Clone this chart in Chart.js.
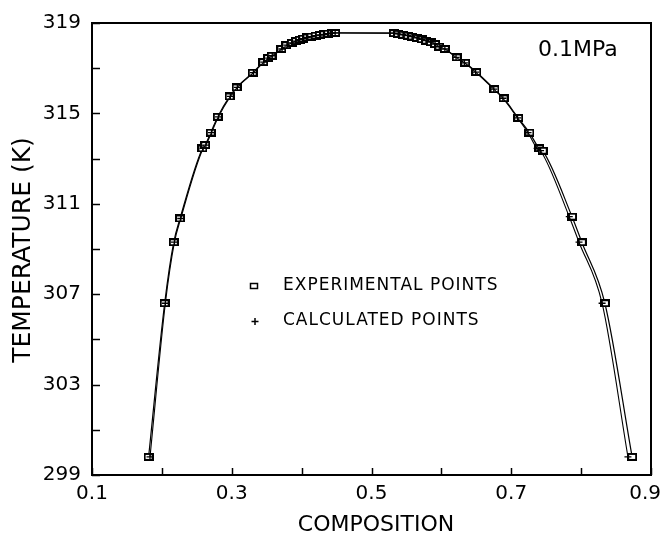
<!DOCTYPE html>
<html><head><meta charset="utf-8">
<script src="https://cdn.jsdelivr.net/npm/chart.js@4.4.1/dist/chart.umd.min.js"></script>
<style>html,body{margin:0;padding:0;background:#fff;overflow:hidden}#wrap{width:663px;height:541px;position:relative}</style>
</head><body><div id="wrap"><canvas id="c" width="663" height="541"></canvas></div>
<script>
// ---- data ----
const expX = [0.181,0.204,0.217,0.226,0.258,0.262,0.270,0.280,0.297,0.307,0.330,0.345,0.352,0.357,0.371,0.378,
  0.386,0.392,0.397,0.402,0.408,0.414,0.420,0.426,0.432,0.438,0.444,0.448,
  0.532,0.538,0.545,0.552,0.558,0.565,0.572,0.578,0.585,0.591,0.597,0.605,
  0.622,0.634,0.650,0.676,0.689,0.710,0.726,0.740,0.745,0.787,0.801,0.834,0.873];
const expT = [299.8,306.6,309.3,310.35,313.45,313.6,314.15,314.85,315.75,316.15,316.8,317.27,317.45,317.55,317.85,318.02,
  318.12,318.2,318.26,318.31,318.36,318.4,318.44,318.47,318.5,318.53,318.55,318.56,
  318.55,318.52,318.48,318.44,318.4,318.34,318.28,318.22,318.15,318.07,317.95,317.85,
  317.48,317.24,316.83,316.07,315.67,314.8,314.15,313.45,313.35,310.43,309.3,306.6,299.8];
const calcX = [0.183,0.205,0.218,0.227,0.259,0.263,0.271,0.281,0.298,0.308,0.331,0.346,0.353,0.358,0.372,0.379,
  0.386,0.392,0.397,0.402,0.408,0.414,0.420,0.426,0.432,0.438,0.444,0.448,
  0.532,0.538,0.545,0.552,0.558,0.565,0.572,0.578,0.585,0.591,0.597,0.605,
  0.621,0.633,0.649,0.675,0.688,0.709,0.724,0.737,0.742,0.783,0.797,0.830,0.867];
const calcT = [299.8,306.6,309.3,310.35,313.45,313.6,314.15,314.85,315.75,316.15,316.8,317.27,317.45,317.55,317.85,318.02,
  318.12,318.2,318.26,318.31,318.36,318.4,318.44,318.47,318.5,318.53,318.55,318.56,
  318.55,318.52,318.48,318.44,318.4,318.34,318.28,318.22,318.15,318.07,317.95,317.85,
  317.48,317.24,316.83,316.07,315.67,314.8,314.15,313.45,313.35,310.43,309.3,306.6,299.8];
const xTickLabels = ['0.1','0.3','0.5','0.7','0.9'];
const yTickLabels = ['299','303','307','311','315','319'];
const seriesNames = ['EXPERIMENTAL POINTS','CALCULATED POINTS'];
const xTitle = 'COMPOSITION';
const yTitle = 'TEMPERATURE (K)';
const noteText = '0.1MPa';

const FONT = '"DejaVu Sans", sans-serif';

function makeBox(){
  const c = document.createElement('canvas'); c.width = 10; c.height = 8;
  const g = c.getContext('2d');
  g.fillStyle = '#000'; g.fillRect(0,0,10,8);
  g.fillStyle = '#fff'; g.fillRect(2,2,6,4);
  return c;
}
const boxImg = makeBox();

const deco = {
  id: 'deco',
  afterDraw(chart){
    const {ctx, chartArea:a, scales:{x, y}} = chart;
    ctx.save();
    ctx.strokeStyle = '#000'; ctx.fillStyle = '#000';
    ctx.lineWidth = 2;
    ctx.strokeRect(a.left, a.top, a.right - a.left, a.bottom - a.top);
    ctx.lineWidth = 1.5;
    y.ticks.forEach(t => {
      const py = Math.round(y.getPixelForValue(t.value)) + 0.5;
      ctx.beginPath(); ctx.moveTo(a.left, py); ctx.lineTo(a.left + 8, py); ctx.stroke();
    });
    x.ticks.forEach(t => {
      const px = Math.round(x.getPixelForValue(t.value)) + 0.5;
      ctx.beginPath(); ctx.moveTo(px, a.bottom); ctx.lineTo(px, a.bottom - 7); ctx.stroke();
    });
    // x tick labels
    ctx.font = '20px ' + FONT; ctx.textBaseline = 'middle'; ctx.textAlign = 'center';
    x.ticks.forEach(t => {
      const s = t.value.toFixed(1);
      if (!xTickLabels.includes(s)) return;
      let px = x.getPixelForValue(t.value);
      const w = ctx.measureText(s).width;
      px = Math.min(px, chart.width - 2 - w / 2);
      ctx.fillText(s, px, a.bottom + 19);
    });
    // axis titles
    ctx.font = '22px ' + FONT;
    ctx.fillText(xTitle, 376, 525);
    ctx.save();
    ctx.translate(23, 250); ctx.rotate(-Math.PI / 2);
    ctx.font = '25px ' + FONT;
    ctx.fillText(yTitle, 0, 0);
    ctx.restore();
    // note
    ctx.textAlign = 'left';
    ctx.font = '22px ' + FONT;
    ctx.fillText(noteText, 538, 50);
    // legend
    ctx.font = '17px ' + FONT;
    try { ctx.letterSpacing = '1px'; } catch(e) {}
    ctx.fillText(seriesNames[0], 283, 286);
    ctx.fillText(seriesNames[1], 283, 321);
    try { ctx.letterSpacing = '0px'; } catch(e) {}
    ctx.lineWidth = 1.5;
    ctx.strokeRect(250.5, 283.5, 7, 5);
    ctx.beginPath();
    ctx.moveTo(251.5, 321.5); ctx.lineTo(258.5, 321.5);
    ctx.moveTo(255, 318); ctx.lineTo(255, 325);
    ctx.stroke();
    ctx.restore();
  }
};

new Chart(document.getElementById('c'), {
  type: 'scatter',
  data: {
    datasets: [
      {
        label: seriesNames[1],
        data: calcX.map((v, i) => ({x: v, y: calcT[i]})),
        showLine: true, cubicInterpolationMode: 'monotone',
        borderColor: '#000', borderWidth: 1.1, backgroundColor: '#000',
        pointStyle: 'cross', pointRadius: 3.5, pointBorderWidth: 1.3,
        order: 0
      },
      {
        label: seriesNames[0],
        data: expX.map((v, i) => ({x: v, y: expT[i]})),
        showLine: true, cubicInterpolationMode: 'monotone',
        borderColor: '#000', borderWidth: 1.2, backgroundColor: '#fff',
        pointStyle: boxImg, pointRadius: 4,
        order: 1
      }
    ]
  },
  options: {
    responsive: false, animation: false, devicePixelRatio: 1,
    layout: {padding: {left: 0, top: 17, right: 12, bottom: 0}},
    plugins: {legend: {display: false}, tooltip: {enabled: false}},
    scales: {
      x: {
        type: 'linear', min: 0.1, max: 0.9,
        ticks: {display: false, stepSize: 0.1},
        grid: {display: false}, border: {display: false},
        afterFit: s => { s.height = 66; s.paddingLeft = 0; s.paddingRight = 0; }
      },
      y: {
        type: 'linear', min: 299, max: 319,
        ticks: {
          stepSize: 2, padding: 11, color: '#000',
          font: {family: FONT, size: 20},
          callback: v => yTickLabels.includes(String(v)) ? String(v) : ''
        },
        grid: {display: false, drawTicks: false}, border: {display: false},
        afterFit: s => { s.width = 92; }
      }
    }
  },
  plugins: [deco]
});
</script>
</body></html>
